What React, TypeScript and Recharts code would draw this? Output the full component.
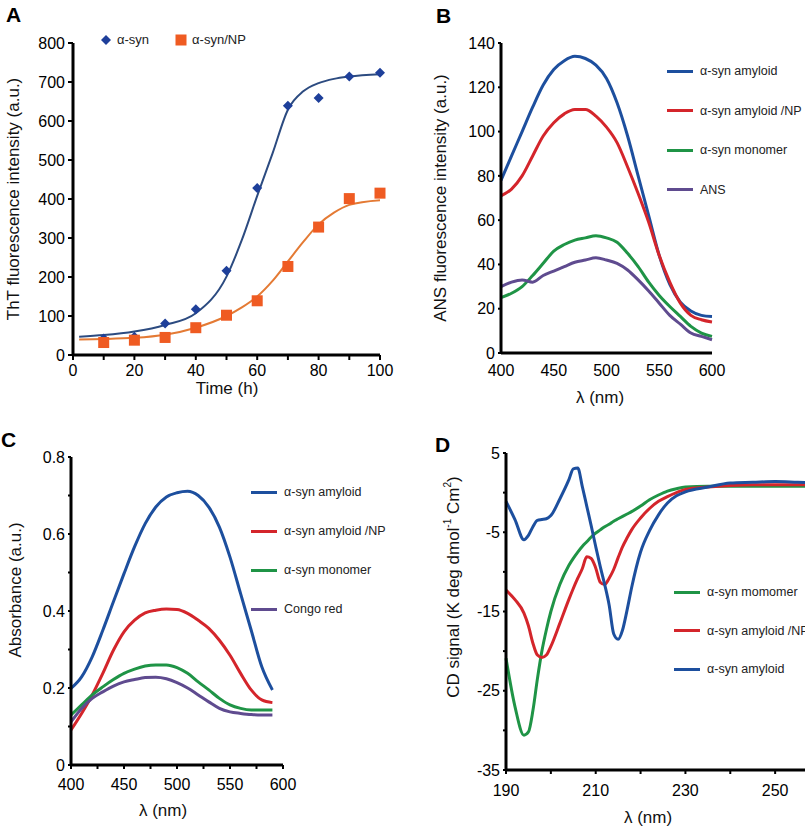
import React from "react";
import {
  ComposedChart,
  LineChart,
  Line,
  Scatter,
  XAxis,
  YAxis,
  Legend,
} from "recharts";

const FONT = '"Liberation Sans", Arial, sans-serif';

// ---- panel A: ThT kinetics ----
const timeH = [10, 20, 30, 40, 50, 60, 70, 80, 90, 100];
const synPoints = [42, 47, 81, 117, 216, 428, 639, 659, 714, 724];
const synNpPoints = [32, 38, 45, 70, 102, 139, 227, 328, 401, 415];
const fitTime = [2, 10, 20, 30, 40, 50, 55, 60, 65, 70, 75, 80, 85, 90, 100];
const synFit = [47, 51, 60, 77, 107, 201, 295, 408, 517, 629, 676, 697, 708, 714, 720];
const synNpFit = [40, 41, 44, 52, 70, 100, 122, 150, 190, 240, 290, 335, 365, 385, 397];
const timeTicks = [0, 10, 20, 30, 40, 50, 60, 70, 80, 90, 100];
const thtTicks = [0, 100, 200, 300, 400, 500, 600, 700, 800];

// ---- panel B: ANS fluorescence ----
const wavelengthB = [400, 410, 420, 430, 440, 450, 460, 470, 480, 490, 500, 510, 520, 530, 540, 550, 560, 570, 580, 590, 600];
const ansAmyloid = [78, 89, 100, 111, 121, 128, 132, 134, 133, 130, 124, 113, 98, 80, 62, 44, 31, 23, 19, 17, 16.5];
const ansAmyloidNp = [71, 74, 80, 89, 98, 104, 108, 110, 110, 107, 102, 95, 84, 72, 59, 44, 32, 22.5, 17, 15, 14];
const ansMonomer = [25, 27, 30, 35, 40.5, 46, 49, 51, 52, 53, 52, 50, 45, 39, 32, 26, 21, 16.5, 12, 9, 7.5];
const ansOnly = [30, 32, 33, 32, 35, 37, 39, 41, 42, 43, 42, 40.5, 37.5, 33, 28, 22.5, 17, 13, 9, 7.5, 6];
const ansTicks = [0, 20, 40, 60, 80, 100, 120, 140];
const wlTicksB = [400, 450, 500, 550, 600];

// ---- panel C: Congo red absorbance ----
const wavelengthC = [400, 410, 420, 430, 440, 450, 460, 470, 480, 490, 500, 510, 520, 530, 540, 550, 560, 570, 580, 590];
const crAmyloid = [0.199, 0.229, 0.281, 0.35, 0.424, 0.497, 0.567, 0.627, 0.67, 0.696, 0.707, 0.711, 0.7, 0.67, 0.618, 0.54, 0.445, 0.35, 0.255, 0.195];
const crAmyloidNp = [0.091, 0.134, 0.182, 0.238, 0.298, 0.346, 0.376, 0.395, 0.402, 0.405, 0.404, 0.394, 0.376, 0.355, 0.324, 0.285, 0.238, 0.195, 0.169, 0.162];
const crMonomer = [0.13, 0.156, 0.182, 0.203, 0.222, 0.238, 0.249, 0.257, 0.26, 0.26, 0.253, 0.238, 0.216, 0.195, 0.173, 0.156, 0.147, 0.143, 0.143, 0.143];
const crOnly = [0.112, 0.147, 0.173, 0.19, 0.205, 0.216, 0.222, 0.227, 0.228, 0.224, 0.214, 0.2, 0.182, 0.164, 0.147, 0.138, 0.134, 0.131, 0.13, 0.13];
const absTicks = [0, 0.1, 0.2, 0.3, 0.4, 0.5, 0.6, 0.7, 0.8];
const absLabels = ["0", "", "0.2", "", "0.4", "", "0.6", "", "0.8"];
const wlTicksC = [400, 425, 450, 475, 500, 525, 550, 575, 600];

// ---- panel D: CD spectra ----
const wavelengthD = [190, 192, 194, 195, 196, 197, 198, 199, 200, 202, 204, 205, 206, 207, 208, 209, 210, 211, 212, 213, 214, 215, 216, 217, 218, 220, 222, 224, 226, 228, 230, 235, 240, 245, 250, 255, 260];
const cdAmyloid = [-1.1, -3.4, -5.95, -5.4, -4.3, -3.5, -3.4, -3.3, -2.9, -0.8, 1.6, 3.0, 3.1, 0.8, -1.7, -4.2, -6.8, -9.3, -11.6, -14.2, -17.8, -18.5, -17.3, -14.8, -12.0, -7.5, -4.8, -2.8, -1.3, -0.4, 0.1, 0.7, 1.2, 1.3, 1.4, 1.3, 1.2];
const cdAmyloidNp = [-12.3, -13.5, -15.2, -16.8, -19, -20.5, -20.8, -20.5, -19.4, -16.5, -13.5, -12.1, -10.8, -9.6, -8.1, -8.3, -9.5, -11.3, -11.6, -10.8, -9.7, -8.2, -6.8, -5.7, -4.7, -3.2, -2.0, -1.1, -0.5, 0, 0.4, 0.7, 0.9, 1.0, 1.0, 1.0, 1.0];
const cdMonomer = [-20.9, -27, -30.6, -30.2, -27.5, -23.5, -20, -17.3, -15, -11.6, -9.2, -8.3, -7.5, -6.8, -6.2, -5.6, -5.1, -4.7, -4.3, -4.0, -3.6, -3.3, -3.0, -2.7, -2.4, -1.7, -0.9, -0.3, 0.2, 0.5, 0.7, 0.8, 0.8, 0.8, 0.8, 0.8, 0.8];
const cdTicks = [-35, -30, -25, -20, -15, -10, -5, 0, 5];
const cdLabels = ["-35", "", "-25", "", "-15", "", "-5", "", "5"];
const wlTicksD = [190, 200, 210, 220, 230, 240, 250, 260];

const BLUE = "#1d4f9e";
const RED = "#d4252b";
const GREEN = "#1f9446";
const PURPLE = "#5f4b8f";

const tickStyle = { fontSize: 16, fill: "#000", fontFamily: FONT };
const axisLineStyle = { stroke: "#000", strokeWidth: 3 };
const tickLineStyle = { stroke: "#000", strokeWidth: 2 };

const zip = (xs: number[], ys: number[]) => xs.map((x, i) => ({ x, y: ys[i] }));

// rotated y title drawn at a fixed spot in the chart
const yTitle = (content: React.ReactNode, x: number, y: number) => () => (
  <text
    x={x}
    y={y}
    transform={`rotate(-90 ${x} ${y})`}
    textAnchor="middle"
    dominantBaseline="central"
    fontSize={17}
    fontFamily={FONT}
    fill="#111"
  >
    {content}
  </text>
);

const xTitle = (content: string, x: number, y: number) => () => (
  <text x={x} y={y} textAnchor="middle" dominantBaseline="central" fontSize={17} fontFamily={FONT} fill="#111">
    {content}
  </text>
);

type Item = { label: string; color: string };

const LineLegend = ({ items, gap }: { items: Item[]; gap: number }) => (
  <div style={{ fontFamily: FONT, fontSize: 12.5, color: "#222", whiteSpace: "nowrap" }}>
    {items.map((it, i) => (
      <div key={it.label} style={{ display: "flex", alignItems: "center", height: 16, marginTop: i === 0 ? 0 : gap - 16 }}>
        <span style={{ display: "inline-block", width: 26, height: 3, background: it.color, marginRight: 7 }} />
        <span>{it.label}</span>
      </div>
    ))}
  </div>
);

const Diamond = (props: any) => {
  const { cx, cy } = props;
  const r = 5;
  return <polygon points={`${cx},${cy - r} ${cx + r},${cy} ${cx},${cy + r} ${cx - r},${cy}`} fill="#1e3f9a" />;
};

const Square = (props: any) => {
  const { cx, cy } = props;
  return <rect x={cx - 5.5} y={cy - 5.5} width={11} height={11} fill="#ef5b22" />;
};

const Letter = ({ ch, left, top }: { ch: string; left: number; top: number }) => (
  <div style={{ position: "absolute", left, top, fontFamily: FONT, fontWeight: "bold", fontSize: 21, lineHeight: "21px" }}>
    {ch}
  </div>
);

function PanelA() {
  return (
    <div style={{ position: "absolute", left: 0, top: 0 }}>
      <ComposedChart width={400} height={410} margin={{ top: 43, right: 20, bottom: 25, left: 13 }}>
        <XAxis
          type="number"
          dataKey="x"
          domain={[0, 100]}
          ticks={timeTicks}
          tickFormatter={(v: number) => (v % 20 === 0 ? String(v) : "")}
          height={30}
          axisLine={axisLineStyle}
          tickLine={tickLineStyle}
          tickSize={5}
          tickMargin={5}
          tick={tickStyle}
          label={xTitle("Time (h)", 227, 388)}
        />
        <YAxis
          type="number"
          dataKey="y"
          domain={[0, 800]}
          ticks={thtTicks}
          width={60}
          axisLine={axisLineStyle}
          tickLine={tickLineStyle}
          tickSize={5}
          tickMargin={3}
          tick={tickStyle}
          label={yTitle("ThT fluorescence intensity (a.u.)", 13, 199)}
        />
        <Line data={zip(fitTime, synFit)} dataKey="y" type="monotone" stroke="#2c4b80" strokeWidth={2} dot={false} isAnimationActive={false} />
        <Line data={zip(fitTime, synNpFit)} dataKey="y" type="monotone" stroke="#e47a34" strokeWidth={2} dot={false} isAnimationActive={false} />
        <Scatter data={zip(timeH, synPoints)} dataKey="y" shape={Diamond} isAnimationActive={false} />
        <Scatter data={zip(timeH, synNpPoints)} dataKey="y" shape={Square} isAnimationActive={false} />
        <Legend
          layout="horizontal"
          verticalAlign="middle"
          align="center"
          wrapperStyle={{ top: 32, left: 100, width: 200 }}
          content={() => (
            <div style={{ display: "flex", alignItems: "center", fontFamily: FONT, fontSize: 13, color: "#222", whiteSpace: "nowrap" }}>
              <svg width={12} height={12} style={{ marginRight: 5 }}>
                <polygon points="6,1 11,6 6,11 1,6" fill="#1e3f9a" />
              </svg>
              <span style={{ marginRight: 26 }}>α-syn</span>
              <svg width={12} height={12} style={{ marginRight: 5 }}>
                <rect x={0.5} y={0.5} width={11} height={11} fill="#ef5b22" />
              </svg>
              <span>α-syn/NP</span>
            </div>
          )}
        />
      </ComposedChart>
    </div>
  );
}

function PanelB() {
  const data = wavelengthB.map((x, i) => ({ x, a: ansAmyloid[i], b: ansAmyloidNp[i], c: ansMonomer[i], d: ansOnly[i] }));
  const items: Item[] = [
    { label: "α-syn amyloid", color: BLUE },
    { label: "α-syn amyloid /NP", color: RED },
    { label: "α-syn monomer", color: GREEN },
    { label: "ANS", color: PURPLE },
  ];
  return (
    <div style={{ position: "absolute", left: 400, top: 0 }}>
      <LineChart width={405} height={410} data={data} margin={{ top: 43, right: 93, bottom: 27, left: 51 }}>
        <XAxis type="number" dataKey="x" domain={[400, 600]} ticks={wlTicksB} height={30} axisLine={axisLineStyle} tickLine={false} tick={tickStyle} tickMargin={6} label={xTitle("λ (nm)", 200, 397)} />
        <YAxis type="number" domain={[0, 140]} ticks={ansTicks} width={50} axisLine={axisLineStyle} tickLine={tickLineStyle} tickSize={3} tickMargin={3} tick={tickStyle} label={yTitle("ANS fluorescence intensity (a.u.)", 40, 198)} />
        <Line dataKey="a" type="monotone" stroke={BLUE} strokeWidth={3} dot={false} isAnimationActive={false} />
        <Line dataKey="b" type="monotone" stroke={RED} strokeWidth={3} dot={false} isAnimationActive={false} />
        <Line dataKey="c" type="monotone" stroke={GREEN} strokeWidth={3} dot={false} isAnimationActive={false} />
        <Line dataKey="d" type="monotone" stroke={PURPLE} strokeWidth={3} dot={false} isAnimationActive={false} />
        <Legend layout="horizontal" verticalAlign="middle" align="center" wrapperStyle={{ top: 63, left: 267, width: 160 }} content={() => <LineLegend items={items} gap={39.5} />} />
      </LineChart>
    </div>
  );
}

function PanelC() {
  const data = wavelengthC.map((x, i) => ({ x, a: crAmyloid[i], b: crAmyloidNp[i], c: crMonomer[i], d: crOnly[i] }));
  const items: Item[] = [
    { label: "α-syn amyloid", color: BLUE },
    { label: "α-syn amyloid /NP", color: RED },
    { label: "α-syn monomer", color: GREEN },
    { label: " Congo red", color: PURPLE },
  ];
  return (
    <div style={{ position: "absolute", left: 0, top: 410 }}>
      <LineChart width={400} height={418} data={data} margin={{ top: 47, right: 117, bottom: 33, left: 21 }}>
        <XAxis type="number" dataKey="x" domain={[400, 600]} ticks={wlTicksC} tickFormatter={(v: number) => (v % 50 === 0 ? String(v) : "")} height={30} axisLine={axisLineStyle} tickLine={tickLineStyle} tickSize={4} tickMargin={10} tick={tickStyle} label={xTitle("λ (nm)", 163, 400)} />
        <YAxis type="number" domain={[0, 0.8]} ticks={absTicks} tickFormatter={(v: number, i: number) => absLabels[i]} width={50} axisLine={axisLineStyle} tickLine={tickLineStyle} tickSize={3} tickMargin={3} tick={tickStyle} label={yTitle("Absorbance (a.u.)", 15, 180)} />
        <Line dataKey="a" type="monotone" stroke={BLUE} strokeWidth={3} dot={false} isAnimationActive={false} />
        <Line dataKey="b" type="monotone" stroke={RED} strokeWidth={3} dot={false} isAnimationActive={false} />
        <Line dataKey="c" type="monotone" stroke={GREEN} strokeWidth={3} dot={false} isAnimationActive={false} />
        <Line dataKey="d" type="monotone" stroke={PURPLE} strokeWidth={3} dot={false} isAnimationActive={false} />
        <Legend layout="horizontal" verticalAlign="middle" align="center" wrapperStyle={{ top: 74, left: 251, width: 160 }} content={() => <LineLegend items={items} gap={39} />} />
      </LineChart>
    </div>
  );
}

function PanelD() {
  const data = wavelengthD.map((x, i) => ({ x, a: cdAmyloid[i], b: cdAmyloidNp[i], c: cdMonomer[i] }));
  const items: Item[] = [
    { label: "α-syn momomer", color: GREEN },
    { label: "α-syn amyloid /NP", color: RED },
    { label: "α-syn amyloid", color: BLUE },
  ];
  const title = (
    <>
      CD signal (K deg dmol
      <tspan dy={-6} fontSize={10}>-1</tspan>
      <tspan dy={6}> Cm</tspan>
      <tspan dy={-6} fontSize={10}>2</tspan>
      <tspan dy={6}>)</tspan>
    </>
  );
  return (
    <div style={{ position: "absolute", left: 400, top: 410 }}>
      <LineChart width={440} height={418} data={data} margin={{ top: 43, right: 20, bottom: 28, left: 56 }}>
        <XAxis type="number" dataKey="x" domain={[190, 260]} ticks={wlTicksD} tickFormatter={(v: number) => ((v - 190) % 20 === 0 ? String(v) : "")} height={30} axisLine={axisLineStyle} tickLine={tickLineStyle} tickSize={4} tickMargin={11} tick={tickStyle} label={xTitle("λ (nm)", 248, 407)} />
        <YAxis type="number" domain={[-35, 5]} ticks={cdTicks} tickFormatter={(v: number, i: number) => cdLabels[i]} width={50} axisLine={axisLineStyle} tickLine={tickLineStyle} tickSize={3} tickMargin={3} tick={tickStyle} label={yTitle(title, 53, 177)} />
        <Line dataKey="c" type="monotone" stroke={GREEN} strokeWidth={3} dot={false} isAnimationActive={false} />
        <Line dataKey="b" type="monotone" stroke={RED} strokeWidth={3} dot={false} isAnimationActive={false} />
        <Line dataKey="a" type="monotone" stroke={BLUE} strokeWidth={3} dot={false} isAnimationActive={false} />
        <Legend layout="horizontal" verticalAlign="middle" align="center" wrapperStyle={{ top: 174, left: 274, width: 160 }} content={() => <LineLegend items={items} gap={38.5} />} />
      </LineChart>
    </div>
  );
}

export default function App() {
  return (
    <div style={{ position: "absolute", left: 0, top: 0, width: 805, height: 828, overflow: "hidden", background: "#fff" }}>
      <PanelA />
      <PanelB />
      <PanelC />
      <PanelD />
      <Letter ch="A" left={6} top={4} />
      <Letter ch="B" left={436} top={5} />
      <Letter ch="C" left={1} top={429} />
      <Letter ch="D" left={435} top={434} />
    </div>
  );
}
